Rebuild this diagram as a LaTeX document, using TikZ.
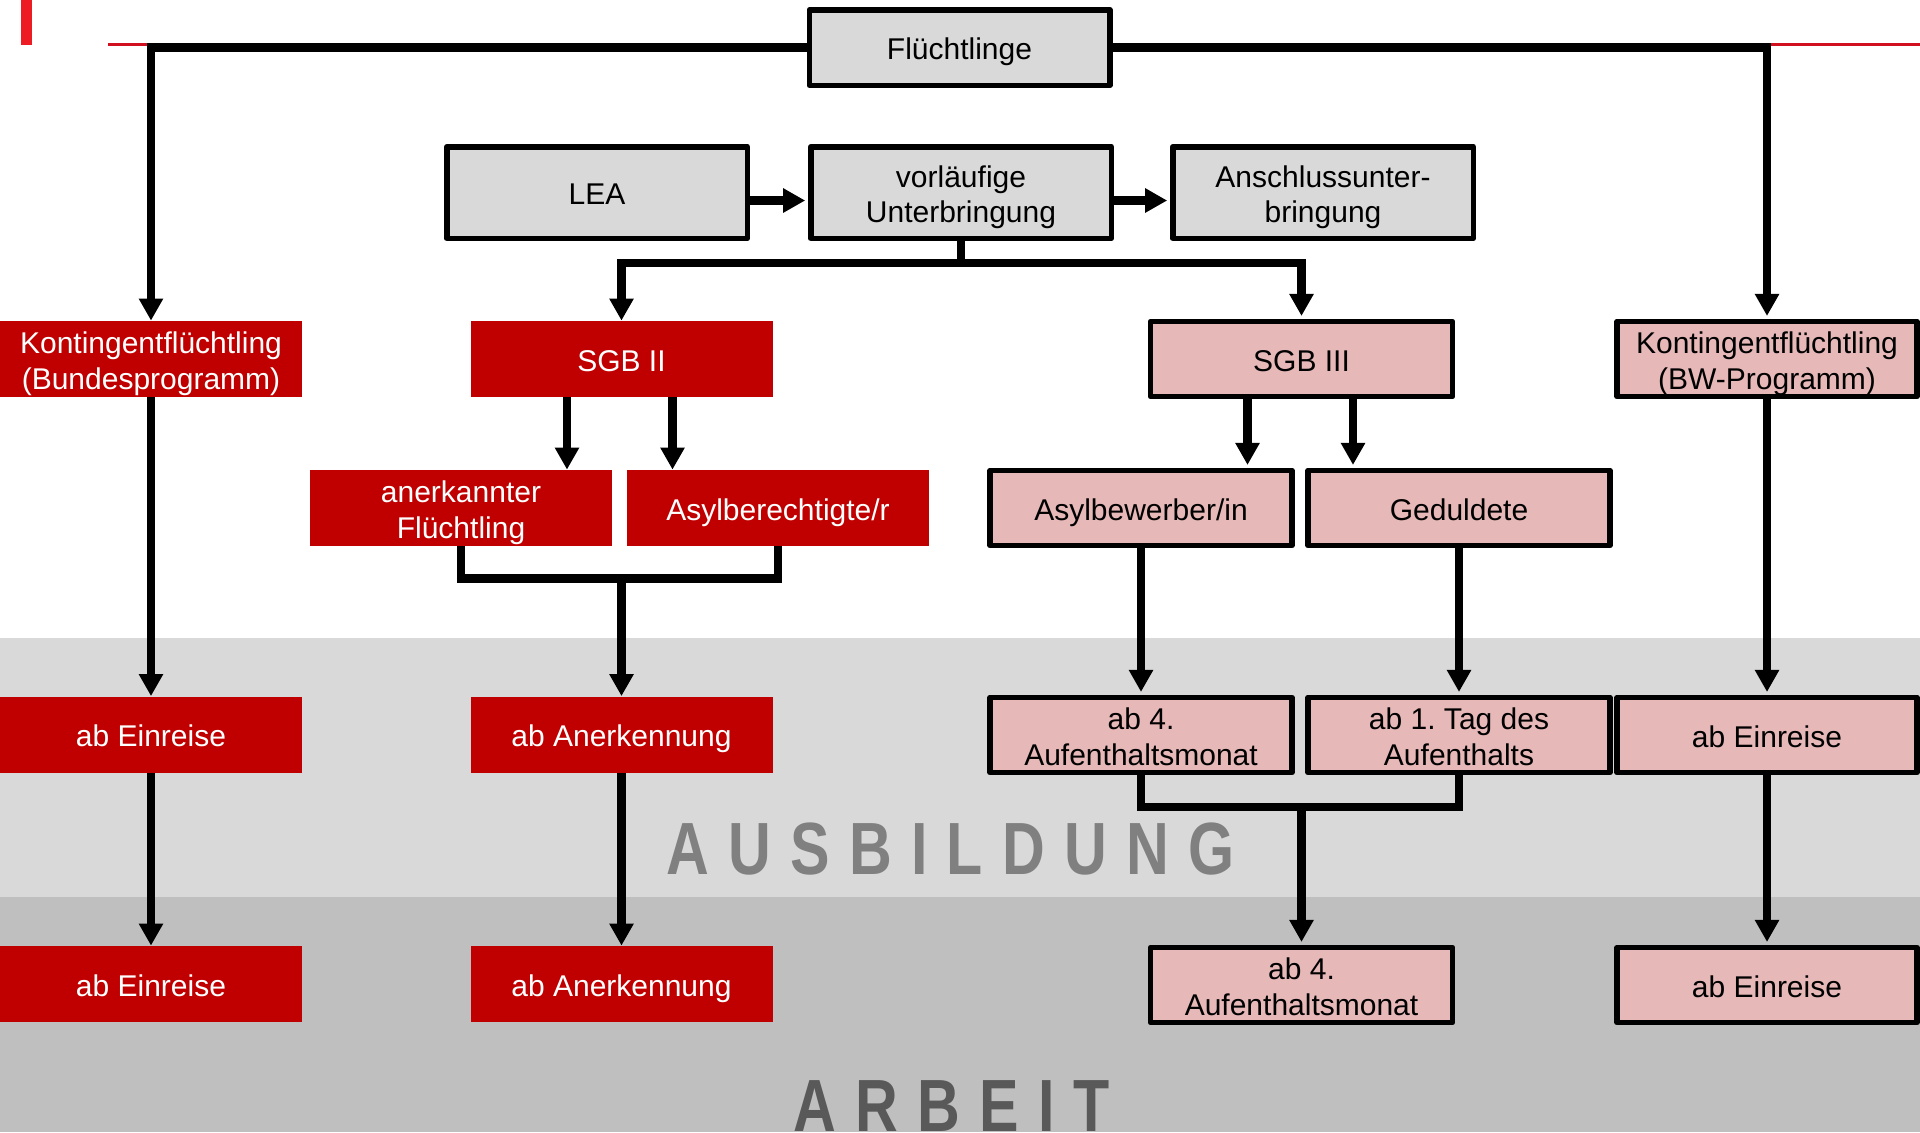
\documentclass[tikz,border=0pt]{standalone}
\usepackage{fontspec}
\setmainfont{Liberation Sans}
\usetikzlibrary{arrows.meta,calc}
\definecolor{boxred}{HTML}{C00000}
\definecolor{boxpink}{HTML}{E6B8B7}
\definecolor{boxgray}{HTML}{D9D9D9}
\definecolor{bandlight}{HTML}{D9D9D9}
\definecolor{banddark}{HTML}{BFBFBF}
\definecolor{slidered}{HTML}{ED1C24}
\definecolor{headred}{HTML}{D0101E}
\definecolor{labellight}{HTML}{808080}
\definecolor{labeldark}{HTML}{595959}
\frenchspacing
\begin{document}
\begin{tikzpicture}[x=0.5pt,y=-0.5pt,
  every node/.style={font=\fontsize{15}{17.75}\selectfont, align=center, inner sep=0pt},
  oneline/.style={execute at begin node={\rule{0pt}{15.8pt}}, execute at end node={\rule[-3.4pt]{0pt}{3.4pt}}},
  twoline/.style={execute at begin node={\rule{0pt}{33.7pt}}, execute at end node={\rule[-3.4pt]{0pt}{3.4pt}}},
  redbox/.style={rectangle, fill=boxred, text=white, minimum width=151pt, minimum height=38pt},
  pinkbox/.style={rectangle, fill=boxpink, draw=black, line width=2.75pt, line join=round, minimum width=151pt, minimum height=37.5pt},
  graybox/.style={rectangle, fill=boxgray, draw=black, line width=2.75pt, line join=round, minimum width=150.25pt, minimum height=45.75pt},
  conn/.style={line width=4.1pt, draw=black},
  arr/.style={conn, -{Triangle[length=11pt,width=11.5pt]}},
  arrb/.style={arr, shorten >=1.4pt},
  bandlabel/.style={font=\fontsize{37}{40}\selectfont\bfseries, inner sep=0pt}
]
\useasboundingbox (0,0) rectangle (1920,1132);
% background
\fill[white] (0,0) rectangle (1920,1132);
\fill[bandlight] (0,638) rectangle (1920,897);
\fill[banddark] (0,897) rectangle (1920,1132);
% slide decoration
\fill[slidered] (21,0) rectangle (32,45);
\draw[headred, line width=1.5pt] (108,44.5) -- (1920,44.5);

% band labels
\node[bandlabel, text=labellight] (ausb) at (950.5,849)
  {\scalebox{0.8}[1]{A\hspace{12pt}U\hspace{12pt}S\hspace{12pt}B\hspace{12pt}I\hspace{12pt}L\hspace{12pt}D\hspace{12pt}U\hspace{12pt}N\hspace{12pt}G}};
\node[bandlabel, text=labeldark] (arb) at (952,1106)
  {\scalebox{0.8}[1]{A\hspace{12pt}R\hspace{12pt}B\hspace{12pt}E\hspace{12pt}I\hspace{12pt}T}};

% row 1
\node[graybox, oneline, minimum height=37.75pt] (fl) at (959.5,47.5) {Flüchtlinge};
% row 2
\node[graybox, oneline] (lea) at (597,192.5) {LEA};
\node[graybox, twoline] (vorl) at (961,192.5) {vorläufige\\Unterbringung};
\node[graybox, twoline] (ansch) at (1323,192.5) {Anschlussunter-\\bringung};
% row 3
\node[redbox, twoline] (kb) at (151,359) {Kontingentflüchtling\\(Bundesprogramm)};
\node[redbox, oneline] (sgb2) at (621.5,359) {SGB II};
\node[pinkbox, oneline] (sgb3) at (1301.5,359) {SGB III};
\node[pinkbox, twoline, minimum width=150pt] (kbw) at (1767,359) {Kontingentflüchtling\\(BW-Programm)};
% row 4
\node[redbox, twoline] (an) at (461,508) {anerkannter\\Flüchtling};
\node[redbox, oneline] (asy) at (778,508) {Asylberechtigte/r};
\node[pinkbox, oneline] (abw) at (1141,508) {Asylbewerber/in};
\node[pinkbox, oneline] (ged) at (1459,508) {Geduldete};
% row 5 (Ausbildung)
\node[redbox, oneline] (e1) at (151,734.5) {ab Einreise};
\node[redbox, oneline] (an1) at (621.5,734.5) {ab Anerkennung};
\node[pinkbox, twoline] (m1) at (1141,735) {ab 4.\\Aufenthaltsmonat};
\node[pinkbox, twoline] (t1) at (1459,735) {ab 1. Tag des\\Aufenthalts};
\node[pinkbox, oneline, minimum width=150pt] (e2) at (1767,735) {ab Einreise};
% row 6 (Arbeit)
\node[redbox, oneline] (e3) at (151,984) {ab Einreise};
\node[redbox, oneline] (an2) at (621.5,984) {ab Anerkennung};
\node[pinkbox, twoline] (m2) at (1301.5,985) {ab 4.\\Aufenthaltsmonat};
\node[pinkbox, oneline, minimum width=150pt] (e4) at (1767,985) {ab Einreise};

% connectors
\draw[arr] (fl.west) -| (kb.north);
\draw[arrb] (fl.east) -| (kbw.north);
\draw[arrb] ($(lea.east)+(0,8)$) -- ($(vorl.west)+(0,8)$);
\draw[arrb] ($(vorl.east)+(0,8)$) -- ($(ansch.west)+(0,8)$);
\draw[conn] (vorl.south) -- ++(0,21.75) coordinate (jv);
\draw[arr] (jv) -| (sgb2.north);
\draw[arrb] (jv) -| (sgb3.north);

\coordinate (s2a) at ($(sgb2.south)+(-54.5,0)$);
\coordinate (s2b) at ($(sgb2.south)+(51,0)$);
\draw[arr] (s2a) -- (s2a |- an.north);
\draw[arr] (s2b) -- (s2b |- asy.north);
\coordinate (s3a) at ($(sgb3.south)+(-54,0)$);
\coordinate (s3b) at ($(sgb3.south)+(51.5,0)$);
\draw[arrb] (s3a) -- (s3a |- abw.north);
\draw[arrb] (s3b) -- (s3b |- ged.north);

\draw[conn] (an.south) -- ++(0,32) coordinate (jm1) -| (asy.south);
\draw[arr] (jm1 -| an1.north) -- (an1.north);
\draw[arr] (kb.south) -- (e1.north);
\draw[arrb] (abw.south) -- (m1.north);
\draw[arrb] (ged.south) -- (t1.north);
\draw[arrb] (kbw.south) -- (e2.north);

\draw[arr] (e1.south) -- (e3.north);
\draw[arr] (an1.south) -- (an2.north);
\draw[conn] (m1.south) -- ++(0,32) coordinate (jm2) -| (t1.south);
\draw[arrb] (jm2 -| m2.north) -- (m2.north);
\draw[arrb] (e2.south) -- (e4.north);
\end{tikzpicture}
\end{document}
